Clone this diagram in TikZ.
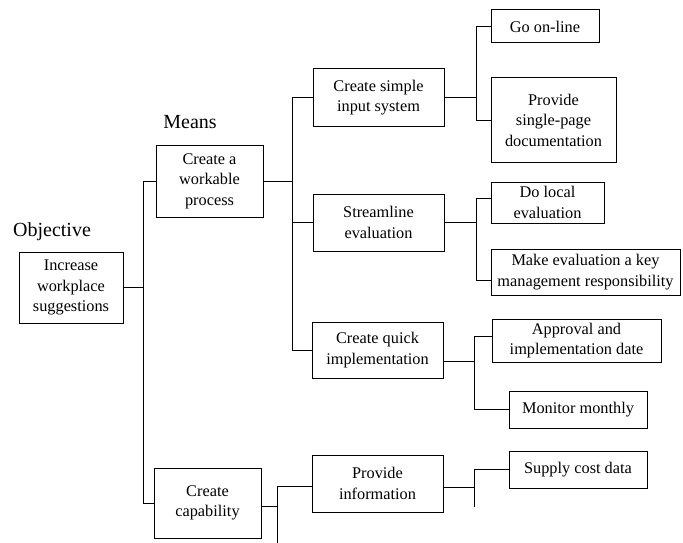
\documentclass[tikz,border=0pt]{standalone}
\usepackage{fontspec}
\setmainfont{Liberation Serif}
\usepackage{tikz}
\usetikzlibrary{calc}
\tikzset{
    bloco/.style={
        rectangle,
        draw,
        line width=1pt,
        align=center,
        inner sep=2pt,
        font=\fontsize{16.3}{20.5}\selectfont
    },
    rotulo/.style={font=\fontsize{20}{24}\selectfont},
    ligacao/.style={line width=1pt}
}

\begin{document}
\begin{tikzpicture}[x=1pt, y=-1pt]

        \useasboundingbox (0,0) rectangle (683,543);

        % titulos das colunas
        \node[rotulo] (objetivo) at (52,232) {Objective};
        \node[rotulo] (meios) at (190,122) {Means};

        % objetivo
        \node[bloco, minimum width=104, minimum height=71] (inc) at (71,287.5)
        {Increase\\ workplace\\ suggestions};

        % meios de primeiro nivel
        \node[bloco, minimum width=107, minimum height=72] (ctwp) at (209.5,181)
        {Create a\\ workable\\ process};

        \node[bloco, minimum width=107, minimum height=70] (ccap) at (207.5,503)
        {Create\\ capability};

        % segundo nivel
        \node[bloco, minimum width=131, minimum height=57] (csis) at (378.5,97.5)
        {Create simple\\ input system};

        \node[bloco, minimum width=131, minimum height=57] (slev) at (378.5,222.5)
        {Streamline\\ evaluation};

        \node[bloco, minimum width=131, minimum height=56] (cqi) at (377.5,350)
        {Create quick\\ implementation};

        \node[bloco, minimum width=131, minimum height=57] (pinf) at (377.5,483.5)
        {Provide\\ information};

        % terceiro nivel
        \node[bloco, minimum width=108, minimum height=33] (gol) at (545,26.5)
        {Go on-line};

        \node[bloco, minimum width=125, minimum height=84] (psp) at (553.5,120)
        {Provide\\ single-page\\ documentation};

        \node[bloco, minimum width=113, minimum height=41] (dle) at (547.5,202.5)
        {Do local\\ evaluation};

        \node[bloco, minimum width=189, minimum height=46] (mek) at (585.5,272)
        {Make evaluation a key\\ management responsibility};

        \node[bloco, minimum width=169, minimum height=43] (aid) at (576.5,340.5)
        {Approval and\\ implementation date};

        \node[bloco, minimum width=138, minimum height=37] (mm) at (578,409.5)
        {Monitor monthly};

        \node[bloco, minimum width=138, minimum height=37] (scd) at (578,469.5)
        {Supply cost data};

        % pontas soltas (diagrama cortado embaixo)
        \coordinate (fimA) at (277,543);
        \coordinate (fimB) at (474,507);

        % ligacoes
        \draw[ligacao] (inc.east) -- ++(20,0) coordinate (bus1);
        \draw[ligacao] (ctwp.west) -| (bus1) |- (ccap.west);

        \draw[ligacao] (ctwp.east) -- ++(29,0) coordinate (bus2);
        \draw[ligacao] (csis.west) -| (bus2) |- (cqi.west);
        \draw[ligacao] (slev.west) -- (slev.west -| bus2);

        \draw[ligacao] ($(ccap.east)+(0,3)$) -- ($(ccap.east -| fimA)+(0,3)$);
        \draw[ligacao] ($(pinf.west)+(0,3)$) -| (fimA);

        \draw[ligacao] (csis.east) -- ++(32,0) coordinate (bus3);
        \draw[ligacao] (gol.west) -| (bus3) |- (psp.west);

        \draw[ligacao] (slev.east) -- ++(32,0) coordinate (bus4);
        \draw[ligacao] ($(dle.west)+(0,-4)$) -| (bus4) |- ($(mek.west)+(0,8)$);

        \draw[ligacao] ($(cqi.east)+(0,11)$) -- ++(31,0) coordinate (bus5);
        \draw[ligacao] ($(aid.west)+(0,-4)$) -| (bus5) |- (mm.west);

        \draw[ligacao] ($(pinf.east)+(0,4)$) -- ($(pinf.east -| fimB)+(0,4)$);
        \draw[ligacao] (scd.west) -| (fimB);

    \end{tikzpicture}
\end{document}
